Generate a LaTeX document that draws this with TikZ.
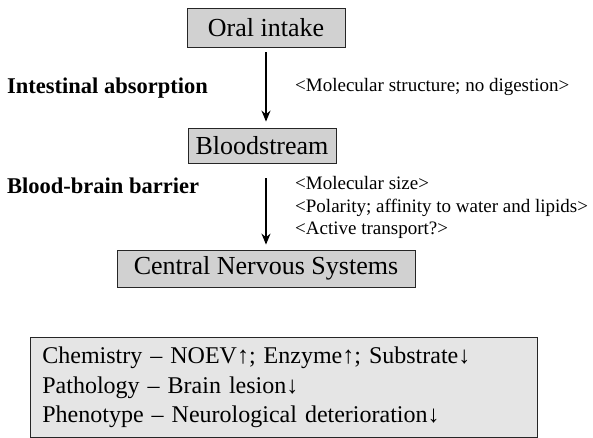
\documentclass[tikz,border=0pt]{standalone}
\usepackage{fontspec}
\setmainfont{Liberation Serif}
\usetikzlibrary{arrows.meta}
\tikzset{
	stage/.style={draw=black!85, fill=black!18, line width=0.8pt, inner sep=0pt, font=\fontsize{26}{30}\selectfont},
	route/.style={font=\bfseries\fontsize{22.5}{26}\selectfont, anchor=west, inner sep=0pt},
	note/.style={font=\fontsize{19}{22.5}\selectfont, anchor=west, align=left, inner sep=0pt},
	effectbox/.style={draw=black!85, fill=black!10, line width=0.8pt, inner xsep=12pt, align=left, font=\fontsize{24}{29.5}\selectfont},
	flow/.style={-{Stealth[width=9pt,length=11pt]}, line width=1.6pt}
}

\begin{document}
\begin{tikzpicture}[x=1pt,y=-1pt]
	\useasboundingbox (0,0) rectangle (593,437);
	%%%stages
	\node[stage,minimum width=158,minimum height=39] (oral) at (266,27.5) {Oral intake};
	\node[stage,minimum width=148,minimum height=35] (blood) at (262,145.5) {Bloodstream};
	\node[stage,minimum width=298,minimum height=37] (cns) at (266,268.5) {Central Nervous Systems};
	
	%%%routes and conditions
	\node[route] (absorb) at (7,88) {Intestinal absorption};
	\node[note] (noteabs) at (295,87) {<Molecular structure; no digestion>};
	\node[route] (bbb) at (7,186) {Blood-brain barrier};
	\node[note] (notebbb) at (295,207.5) {<Molecular size>\\<Polarity; affinity to water and lipids>\\<Active transport?>};
	
	\draw[flow,shorten <=5pt,shorten >=6pt] (oral.south) -- (oral.south |- blood.north);
	\draw[flow,shorten <=15pt,shorten >=5pt] (blood.south -| cns.north) -- (cns.north);
	
	%%%% effects
	\node[effectbox,text width=483,minimum height=100,anchor=north west] (effects) at (30,337)
	{Chemistry – NOEV↑; Enzyme↑; Substrate↓\\Pathology – Brain lesion↓\\Phenotype – Neurological deterioration↓};
\end{tikzpicture}
\end{document}
